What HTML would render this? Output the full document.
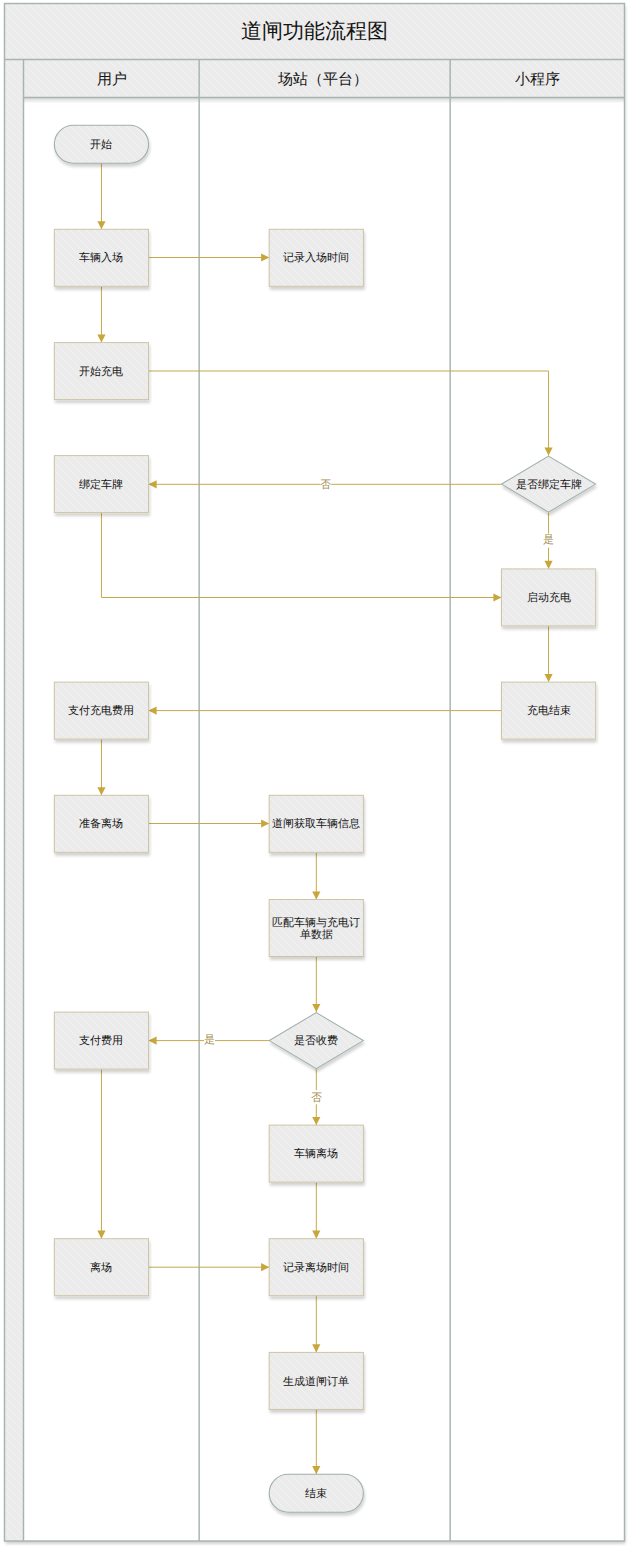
<!DOCTYPE html>
<html><head><meta charset="utf-8"><style>
html,body{margin:0;padding:0;background:#fff;}
body{width:629px;height:1549px;overflow:hidden;position:relative;font-family:"Liberation Sans",sans-serif;}
svg{position:absolute;left:0;top:0;}
text{font-family:"Liberation Sans",sans-serif;}
</style></head><body>
<svg width="629" height="1549" viewBox="0 0 629 1549">
<defs>
<pattern id="hatch" patternUnits="userSpaceOnUse" width="8" height="8">
<rect width="8" height="8" fill="#ebebeb"/>
<path d="M-2,-2 L10,10 M-2,6 L2,10 M6,-2 L10,2" stroke="#f2f2f2" stroke-width="1"/>
</pattern>
<filter id="sh" x="-20%" y="-20%" width="140%" height="150%">
<feGaussianBlur in="SourceAlpha" stdDeviation="1.5"/>
<feOffset dx="1" dy="2.5" result="b"/>
<feComponentTransfer><feFuncA type="linear" slope="0.18"/></feComponentTransfer>
<feMerge><feMergeNode/><feMergeNode in="SourceGraphic"/></feMerge>
</filter>
</defs>

<g filter="url(#sh)"><rect x="4.5" y="3.5" width="620.0" height="1537.5" fill="#fff"/></g>
<rect x="4.5" y="3.5" width="620.0" height="94.0" fill="url(#hatch)"/>
<rect x="4.5" y="3.5" width="19.0" height="1537.5" fill="url(#hatch)"/>
<defs><linearGradient id="hs" x1="0" y1="0" x2="0" y2="1"><stop offset="0" stop-color="#000" stop-opacity="0.16"/><stop offset="1" stop-color="#000" stop-opacity="0"/></linearGradient></defs>
<rect x="23.5" y="97.5" width="601.0" height="6" fill="url(#hs)"/>
<g fill="none" stroke="#a7b4b0" stroke-width="1.45">
<rect x="4.5" y="3.5" width="620.0" height="1537.5"/>
<line x1="4.5" y1="59.5" x2="624.5" y2="59.5"/>
<line x1="23.5" y1="97.5" x2="624.5" y2="97.5"/>
<line x1="23.5" y1="59.5" x2="23.5" y2="1541"/>
<line x1="199.15" y1="59.5" x2="199.15" y2="1541"/>
<line x1="450.15" y1="59.5" x2="450.15" y2="1541"/>
</g>
<text x="314.5" y="38" font-size="21" fill="#141414" text-anchor="middle">道闸功能流程图</text>
<text x="111.5" y="84" font-size="15" fill="#141414" text-anchor="middle">用户</text>
<text x="323" y="84" font-size="15" fill="#141414" text-anchor="middle">场站（平台）</text>
<text x="537.5" y="84" font-size="15" fill="#141414" text-anchor="middle">小程序</text>
<path d="M101.45,163.2 L101.45,229.3" fill="none" stroke="#c6a84c" stroke-width="1"/>
<polygon points="101.45,229.30 97.35,221.20 105.55,221.20" fill="#c8a63a"/>
<path d="M148.55,257.5 L269.2,257.5" fill="none" stroke="#c6a84c" stroke-width="1"/>
<polygon points="269.20,257.50 261.10,253.40 261.10,261.60" fill="#c8a63a"/>
<path d="M101.45,286.3 L101.45,342.6" fill="none" stroke="#c6a84c" stroke-width="1"/>
<polygon points="101.45,342.60 97.35,334.50 105.55,334.50" fill="#c8a63a"/>
<path d="M148.55,371.0 L548.55,371.0 L548.55,455.6" fill="none" stroke="#c6a84c" stroke-width="1"/>
<polygon points="548.55,455.60 544.45,447.50 552.65,447.50" fill="#c8a63a"/>
<path d="M501.44999999999993,484.3 L148.55,484.3" fill="none" stroke="#c6a84c" stroke-width="1"/>
<polygon points="148.55,484.30 156.65,480.20 156.65,488.40" fill="#c8a63a"/>
<path d="M548.55,512.6 L548.55,568.9" fill="none" stroke="#c6a84c" stroke-width="1"/>
<polygon points="548.55,568.90 544.45,560.80 552.65,560.80" fill="#c8a63a"/>
<path d="M101.45,512.6 L101.45,597.5 L501.44999999999993,597.5" fill="none" stroke="#c6a84c" stroke-width="1"/>
<polygon points="501.45,597.50 493.35,593.40 493.35,601.60" fill="#c8a63a"/>
<path d="M548.55,625.9 L548.55,682.1" fill="none" stroke="#c6a84c" stroke-width="1"/>
<polygon points="548.55,682.10 544.45,674.00 552.65,674.00" fill="#c8a63a"/>
<path d="M501.44999999999993,710.6 L148.55,710.6" fill="none" stroke="#c6a84c" stroke-width="1"/>
<polygon points="148.55,710.60 156.65,706.50 156.65,714.70" fill="#c8a63a"/>
<path d="M101.45,739.1 L101.45,795.3" fill="none" stroke="#c6a84c" stroke-width="1"/>
<polygon points="101.45,795.30 97.35,787.20 105.55,787.20" fill="#c8a63a"/>
<path d="M148.55,823.5 L269.2,823.5" fill="none" stroke="#c6a84c" stroke-width="1"/>
<polygon points="269.20,823.50 261.10,819.40 261.10,827.60" fill="#c8a63a"/>
<path d="M316.3,852.3 L316.3,899.5" fill="none" stroke="#c6a84c" stroke-width="1"/>
<polygon points="316.30,899.50 312.20,891.40 320.40,891.40" fill="#c8a63a"/>
<path d="M316.3,956.5 L316.3,1012.0999999999999" fill="none" stroke="#c6a84c" stroke-width="1"/>
<polygon points="316.30,1012.10 312.20,1004.00 320.40,1004.00" fill="#c8a63a"/>
<path d="M269.2,1040.6 L148.55,1040.6" fill="none" stroke="#c6a84c" stroke-width="1"/>
<polygon points="148.55,1040.60 156.65,1036.50 156.65,1044.70" fill="#c8a63a"/>
<path d="M316.3,1069.1 L316.3,1125.1" fill="none" stroke="#c6a84c" stroke-width="1"/>
<polygon points="316.30,1125.10 312.20,1117.00 320.40,1117.00" fill="#c8a63a"/>
<path d="M101.45,1069.1 L101.45,1238.7" fill="none" stroke="#c6a84c" stroke-width="1"/>
<polygon points="101.45,1238.70 97.35,1230.60 105.55,1230.60" fill="#c8a63a"/>
<path d="M148.55,1267.2 L269.2,1267.2" fill="none" stroke="#c6a84c" stroke-width="1"/>
<polygon points="269.20,1267.20 261.10,1263.10 261.10,1271.30" fill="#c8a63a"/>
<path d="M316.3,1182.1 L316.3,1238.7" fill="none" stroke="#c6a84c" stroke-width="1"/>
<polygon points="316.30,1238.70 312.20,1230.60 320.40,1230.60" fill="#c8a63a"/>
<path d="M316.3,1295.7 L316.3,1352.4" fill="none" stroke="#c6a84c" stroke-width="1"/>
<polygon points="316.30,1352.40 312.20,1344.30 320.40,1344.30" fill="#c8a63a"/>
<path d="M316.3,1409.4 L316.3,1474.2" fill="none" stroke="#c6a84c" stroke-width="1"/>
<polygon points="316.30,1474.20 312.20,1466.10 320.40,1466.10" fill="#c8a63a"/>
<rect x="320.2" y="478.3" width="11" height="12" fill="#fff"/>
<text x="325.7" y="488.1" font-size="10.5" fill="#a58d4e" text-anchor="middle">否</text>
<rect x="542.55" y="533.6" width="12" height="14" fill="#fff"/>
<text x="548.55" y="543.1999999999999" font-size="10.5" fill="#a58d4e" text-anchor="middle">是</text>
<rect x="204.0" y="1034.6" width="11" height="12" fill="#fff"/>
<text x="209.5" y="1042.9999999999998" font-size="10.5" fill="#a58d4e" text-anchor="middle">是</text>
<rect x="310.3" y="1090.3" width="12" height="14" fill="#fff"/>
<text x="316.3" y="1101.1" font-size="10.5" fill="#a58d4e" text-anchor="middle">否</text>
<rect x="54.35" y="125.19999999999999" width="94.2" height="38" rx="19" ry="19" fill="url(#hatch)" stroke="#9fb0aa" stroke-width="1.1" filter="url(#sh)"/>
<text x="101.45" y="147.79999999999998" font-size="11" fill="#141414" text-anchor="middle">开始</text>
<rect x="54.35" y="229.3" width="94.2" height="57" fill="url(#hatch)" stroke="#cdc5a6" stroke-width="1" filter="url(#sh)"/>
<text x="101.45" y="261.40000000000003" font-size="11" fill="#141414" text-anchor="middle">车辆入场</text>
<rect x="269.2" y="229.3" width="94.2" height="57" fill="url(#hatch)" stroke="#cdc5a6" stroke-width="1" filter="url(#sh)"/>
<text x="316.3" y="261.40000000000003" font-size="11" fill="#141414" text-anchor="middle">记录入场时间</text>
<rect x="54.35" y="342.6" width="94.2" height="57" fill="url(#hatch)" stroke="#cdc5a6" stroke-width="1" filter="url(#sh)"/>
<text x="101.45" y="374.70000000000005" font-size="11" fill="#141414" text-anchor="middle">开始充电</text>
<rect x="54.35" y="455.6" width="94.2" height="57" fill="url(#hatch)" stroke="#cdc5a6" stroke-width="1" filter="url(#sh)"/>
<text x="101.45" y="487.70000000000005" font-size="11" fill="#141414" text-anchor="middle">绑定车牌</text>
<polygon points="548.55,456.1 595.55,484.1 548.55,512.1 501.54999999999995,484.1" fill="url(#hatch)" stroke="#9fb0aa" stroke-width="1.1" filter="url(#sh)"/>
<text x="548.55" y="487.70000000000005" font-size="11" fill="#141414" text-anchor="middle">是否绑定车牌</text>
<rect x="501.44999999999993" y="568.9" width="94.2" height="57" fill="url(#hatch)" stroke="#cdc5a6" stroke-width="1" filter="url(#sh)"/>
<text x="548.55" y="601.0" font-size="11" fill="#141414" text-anchor="middle">启动充电</text>
<rect x="54.35" y="682.1" width="94.2" height="57" fill="url(#hatch)" stroke="#cdc5a6" stroke-width="1" filter="url(#sh)"/>
<text x="101.45" y="714.2" font-size="11" fill="#141414" text-anchor="middle">支付充电费用</text>
<rect x="501.44999999999993" y="682.1" width="94.2" height="57" fill="url(#hatch)" stroke="#cdc5a6" stroke-width="1" filter="url(#sh)"/>
<text x="548.55" y="714.2" font-size="11" fill="#141414" text-anchor="middle">充电结束</text>
<rect x="54.35" y="795.3" width="94.2" height="57" fill="url(#hatch)" stroke="#cdc5a6" stroke-width="1" filter="url(#sh)"/>
<text x="101.45" y="827.4" font-size="11" fill="#141414" text-anchor="middle">准备离场</text>
<rect x="269.2" y="795.3" width="94.2" height="57" fill="url(#hatch)" stroke="#cdc5a6" stroke-width="1" filter="url(#sh)"/>
<text x="316.3" y="827.4" font-size="11" fill="#141414" text-anchor="middle">道闸获取车辆信息</text>
<rect x="269.2" y="899.5" width="94.2" height="57" fill="url(#hatch)" stroke="#cdc5a6" stroke-width="1" filter="url(#sh)"/>
<text x="316.3" y="925.5" font-size="11" fill="#141414" text-anchor="middle">匹配车辆与充电订</text>
<text x="316.3" y="937.7" font-size="11" fill="#141414" text-anchor="middle">单数据</text>
<rect x="54.35" y="1012.0999999999999" width="94.2" height="57" fill="url(#hatch)" stroke="#cdc5a6" stroke-width="1" filter="url(#sh)"/>
<text x="101.45" y="1044.1999999999998" font-size="11" fill="#141414" text-anchor="middle">支付费用</text>
<polygon points="316.3,1012.5999999999999 363.3,1040.6 316.3,1068.6 269.3,1040.6" fill="url(#hatch)" stroke="#9fb0aa" stroke-width="1.1" filter="url(#sh)"/>
<text x="316.3" y="1044.1999999999998" font-size="11" fill="#141414" text-anchor="middle">是否收费</text>
<rect x="269.2" y="1125.1" width="94.2" height="57" fill="url(#hatch)" stroke="#cdc5a6" stroke-width="1" filter="url(#sh)"/>
<text x="316.3" y="1157.1999999999998" font-size="11" fill="#141414" text-anchor="middle">车辆离场</text>
<rect x="54.35" y="1238.7" width="94.2" height="57" fill="url(#hatch)" stroke="#cdc5a6" stroke-width="1" filter="url(#sh)"/>
<text x="101.45" y="1270.8" font-size="11" fill="#141414" text-anchor="middle">离场</text>
<rect x="269.2" y="1238.7" width="94.2" height="57" fill="url(#hatch)" stroke="#cdc5a6" stroke-width="1" filter="url(#sh)"/>
<text x="316.3" y="1270.8" font-size="11" fill="#141414" text-anchor="middle">记录离场时间</text>
<rect x="269.2" y="1352.4" width="94.2" height="57" fill="url(#hatch)" stroke="#cdc5a6" stroke-width="1" filter="url(#sh)"/>
<text x="316.3" y="1384.5" font-size="11" fill="#141414" text-anchor="middle">生成道闸订单</text>
<rect x="269.2" y="1474.2" width="94.2" height="38" rx="19" ry="19" fill="url(#hatch)" stroke="#9fb0aa" stroke-width="1.1" filter="url(#sh)"/>
<text x="316.3" y="1496.8" font-size="11" fill="#141414" text-anchor="middle">结束</text>
</svg></body></html>
